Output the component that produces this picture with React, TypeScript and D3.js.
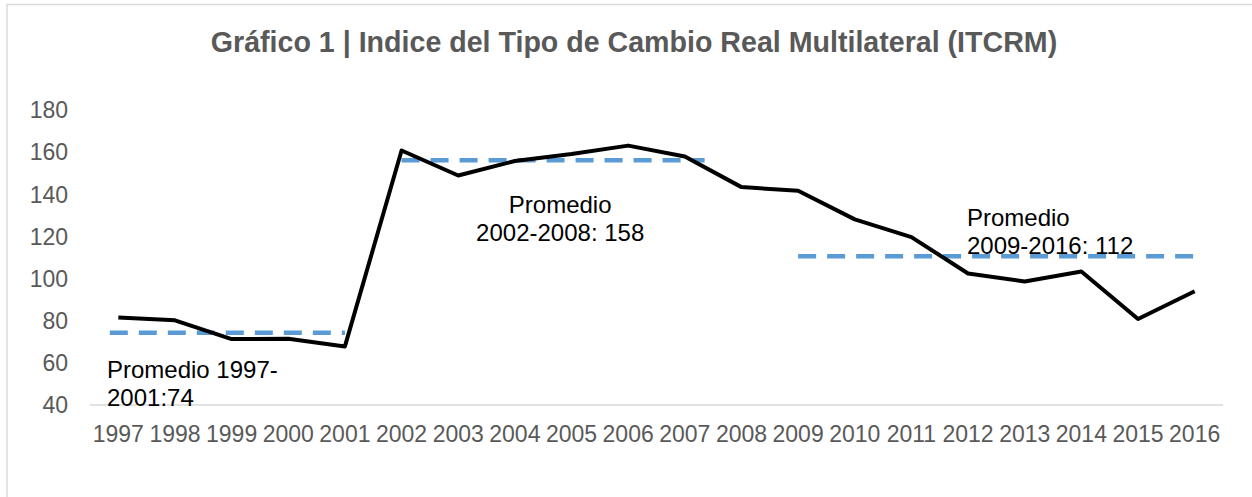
import React from 'react';
import * as d3 from 'd3';

// ITCRM annual values
const years = [
  '1997', '1998', '1999', '2000', '2001', '2002', '2003', '2004', '2005', '2006',
  '2007', '2008', '2009', '2010', '2011', '2012', '2013', '2014', '2015', '2016',
];
const itcrm = [
  81.5, 80.2, 71.3, 71.4, 67.8, 160.8, 148.9, 155.8, 159.1, 163.1,
  157.9, 143.4, 141.7, 128.1, 119.7, 102.4, 98.6, 103.4, 80.8, 94,
];
const yTicks = [40, 60, 80, 100, 120, 140, 160, 180];

// period averages: first/last year (fractional where the dashed line runs past a year)
const avgFrom = [1996.85, 2002, 2009];
const avgTo = [2001, 2007.35, 2016];
const avgValue = [74.3, 156.1, 110.6];
const avgLabels = [
  ['Promedio 1997-', '2001:74'],
  ['Promedio', '2002-2008: 158'],
  ['Promedio', '2009-2016: 112'],
];

const W = 1252;
const H = 497;
const margin = { left: 90, right: 29, top: 110, bottom: 92 };
const font = '"Liberation Sans", Arial, sans-serif';

export default function App() {
  const x = d3.scaleBand().domain(years).range([margin.left, W - margin.right]);
  const y = d3.scaleLinear().domain([40, 180]).range([H - margin.bottom, margin.top]);
  const cx = (yr: string) => (x(yr) as number) + x.bandwidth() / 2;
  // continuous year -> px, for the average segments
  const xYear = d3.scaleLinear().domain([1997, 2016]).range([cx('1997'), cx('2016')]);

  const line = d3.line<number>()
    .x((_, i) => cx(years[i]))
    .y((d) => y(d));

  const labelPos = [
    { x: xYear(1996.8), y: y(40) - 27, anchor: 'start' },
    { x: xYear(2004.8), y: y(131.2), anchor: 'middle' },
    { x: xYear(2011.98), y: y(124.8), anchor: 'start' },
  ];

  return (
    <svg width={W} height={H} style={{ position: 'absolute', left: 0, top: 0 }}>
      <rect x={0} y={0} width={W} height={H} fill="#fff" />
      <rect x={7} y={4.5} width={W + 10} height={H + 10} fill="none" stroke="#d9d9d9" strokeWidth={1.5} />
      <text x={634} y={52} textAnchor="middle" fontFamily={font} fontWeight="bold" fontSize={28.6} fill="#595959">
        Gráfico 1 | Indice del Tipo de Cambio Real Multilateral (ITCRM)
      </text>

      {yTicks.map((t) => (
        <text key={t} x={68} y={y(t)} dy="0.36em" textAnchor="end" fontFamily={font} fontSize={23} fill="#595959">
          {t}
        </text>
      ))}
      <line x1={margin.left} x2={W - margin.right} y1={y(40)} y2={y(40)} stroke="#d9d9d9" strokeWidth={1.5} />
      {years.map((yr) => (
        <text key={yr} x={cx(yr)} y={y(40) + 37} textAnchor="middle" fontFamily={font} fontSize={23} fill="#595959">
          {yr}
        </text>
      ))}

      {avgValue.map((v, i) => (
        <line key={i} x1={xYear(avgFrom[i])} x2={xYear(avgTo[i])} y1={y(v)} y2={y(v)}
          stroke="#5b9bd5" strokeWidth={4.5} strokeDasharray="18 11" />
      ))}

      <path d={line(itcrm) ?? ''} fill="none" stroke="#000" strokeWidth={4} strokeLinejoin="round" />

      {avgLabels.map((lines, i) => (
        <text key={i} x={labelPos[i].x} y={labelPos[i].y} textAnchor={labelPos[i].anchor}
          fontFamily={font} fontSize={24} fill="#000">
          {lines.map((l, j) => (
            <tspan key={j} x={labelPos[i].x} dy={j === 0 ? 0 : 28}>{l}</tspan>
          ))}
        </text>
      ))}
    </svg>
  );
}
